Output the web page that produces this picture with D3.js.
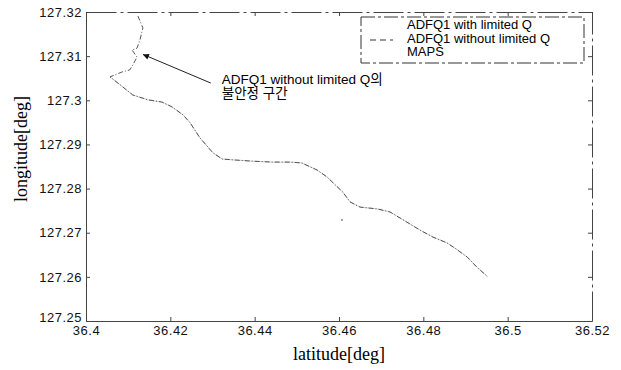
<!DOCTYPE html>
<html>
<head>
<meta charset="utf-8">
<script src="https://cdn.jsdelivr.net/npm/d3@7"></script>
<style>
  body { margin: 0; background: #fff; }
  svg { display: block; }
</style>
</head>
<body>
<script>
// data
const xTicks = [36.4, 36.42, 36.44, 36.46, 36.48, 36.5, 36.52]
const yTicks = [127.25, 127.26, 127.27, 127.28, 127.29, 127.3, 127.31, 127.32]

// unstable part of "without limited Q"
const latUnstable = [36.4123, 36.4135, 36.4128, 36.4121, 36.4109, 36.4121, 36.4111, 36.4104, 36.4085]
const lonUnstable = [127.3191, 127.3164, 127.3137, 127.3118, 127.3114, 127.3098, 127.3080, 127.3069, 127.3064]

// common trajectory
const latMain = [36.4057, 36.4081, 36.4111, 36.4147, 36.4180, 36.4204, 36.4230, 36.4247, 36.4270, 36.4301,
  36.4323, 36.4349, 36.4396, 36.4443, 36.4484, 36.4512, 36.4548, 36.4572, 36.4586, 36.4609,
  36.4626, 36.4650, 36.4690, 36.4721, 36.4761, 36.4792, 36.4823, 36.4856, 36.4875, 36.4904,
  36.4927, 36.4953]
const lonMain = [127.3053, 127.3035, 127.3012, 127.3001, 127.2996, 127.2985, 127.2967, 127.2949, 127.2915, 127.2881,
  127.2867, 127.2865, 127.2862, 127.2860, 127.2860, 127.2858, 127.2842, 127.2826, 127.2813, 127.2792,
  127.2770, 127.2758, 127.2754, 127.2747, 127.2724, 127.2706, 127.2690, 127.2677, 127.2665, 127.2645,
  127.2622, 127.2600]

// stray MAPS fix
const latMapsStray = [36.4607]
const lonMapsStray = [127.2729]

const legendLabels = ["ADFQ1 with limited Q", "ADFQ1 without limited Q", "MAPS"]

// annotation (data coords)
const noteTip = [36.4135, 127.3104]
const noteTail = [36.4296, 127.3039]
const noteAt = [36.4322, 127.3036]
const noteLines = ["ADFQ1 without limited Q의", "불안정 구간"]

const w = 621
const h = 370
const m = {left: 86, top: 12, right: 29, bottom: 49}

const svg = d3.select("body")
  .append("svg")
  .attr("width", w)
  .attr("height", h)
  .style("font-family", "'Liberation Sans', Arial, sans-serif")

const xScale = d3.scaleLinear().domain([36.4, 36.52]).range([m.left, w - m.right])
const yScale = d3.scaleLinear().domain([127.25, 127.32]).range([h - m.bottom, m.top])

const fmt = d => String(+d.toFixed(2))

// axes (ticks inward, matlab style)
const xAxis = d3.axisBottom(xScale).tickValues(xTicks).tickFormat(fmt)
  .tickSizeInner(-4).tickSizeOuter(0).tickPadding(5)
const yAxis = d3.axisLeft(yScale).tickValues(yTicks).tickFormat(fmt)
  .tickSizeInner(-4).tickSizeOuter(0).tickPadding(4)

svg.append("g")
  .attr("transform", "translate(0," + (h - m.bottom) + ")")
  .call(xAxis)
const gy = svg.append("g")
  .attr("transform", "translate(" + m.left + ",0)")
  .call(yAxis)

// lowest y label sits just above the 36.4 label, nudge it up a little
gy.selectAll(".tick text").filter(d => d === yTicks[0]).attr("y", -4)

svg.append("g")
  .attr("transform", "translate(0," + m.top + ")")
  .call(d3.axisTop(xScale).tickValues(xTicks).tickFormat("").tickSizeInner(-4).tickSizeOuter(0))
  .select(".domain").attr("stroke-dasharray", "30,4,3,4")
svg.append("g")
  .attr("transform", "translate(" + (w - m.right) + ",0)")
  .call(d3.axisRight(yScale).tickValues(yTicks).tickFormat("").tickSizeInner(-4).tickSizeOuter(0))
  .select(".domain").attr("stroke-dasharray", "30,4,3,4")

svg.selectAll(".domain").attr("stroke", "#444")
svg.selectAll(".tick line").attr("stroke", "#444")
svg.selectAll(".tick text").attr("fill", "#111")
  .style("font-size", "13px")
  .style("letter-spacing", "0.5px")
  .style("font-family", "'Liberation Sans', Arial, sans-serif")

// axis titles
svg.append("text")
  .attr("x", (m.left + w - m.right) / 2)
  .attr("y", 360)
  .attr("text-anchor", "middle")
  .style("font-family", "'Liberation Serif', 'Times New Roman', serif")
  .style("font-size", "18px")
  .text("latitude[deg]")
svg.append("text")
  .attr("transform", "translate(27," + 149 + ") rotate(-90)")
  .attr("text-anchor", "middle")
  .style("font-family", "'Liberation Serif', 'Times New Roman', serif")
  .style("font-size", "18px")
  .text("longitude[deg]")

// series
const line = d3.line().x(d => xScale(d[0])).y(d => yScale(d[1]))
const mainPts = latMain.map((v, i) => [v, lonMain[i]])
const unstablePts = latUnstable.map((v, i) => [v, lonUnstable[i]])

svg.append("path")
  .datum(mainPts)
  .attr("fill", "none")
  .attr("stroke", "#bbb")
  .attr("stroke-width", 0.7)
  .attr("d", line)

svg.append("path")
  .datum(unstablePts.concat(mainPts))
  .attr("fill", "none")
  .attr("stroke", "#444")
  .attr("stroke-width", 0.9)
  .attr("stroke-dasharray", "5,2,1,2")
  .attr("d", line)

svg.selectAll(".stray")
  .data(latMapsStray.map((v, i) => [v, lonMapsStray[i]]))
  .enter()
  .append("rect")
  .attr("x", d => xScale(d[0]) - 0.5)
  .attr("y", d => yScale(d[1]) - 1)
  .attr("width", 1)
  .attr("height", 2)
  .attr("fill", "#444")

// legend
const lg = svg.append("g")
lg.append("rect")
  .attr("x", 361).attr("y", 17).attr("width", 223).attr("height", 46)
  .attr("fill", "#fff")
  .attr("stroke", "#333")
  .attr("stroke-dasharray", "14,3,3,3")
lg.selectAll("text")
  .data(legendLabels)
  .enter()
  .append("text")
  .attr("x", 407)
  .attr("y", (d, i) => 29 + i * 13.5)
  .style("font-size", "13px")
  .text(d => d)
lg.append("line")
  .attr("x1", 370).attr("x2", 393).attr("y1", 40).attr("y2", 40)
  .attr("stroke", "#333")
  .attr("stroke-dasharray", "6,4")

// annotation
svg.append("defs").append("marker")
  .attr("id", "arr")
  .attr("viewBox", "0 0 10 10")
  .attr("refX", 10).attr("refY", 5)
  .attr("markerWidth", 8).attr("markerHeight", 6)
  .attr("markerUnits", "userSpaceOnUse")
  .attr("orient", "auto")
  .append("path")
  .attr("d", "M0,0L10,5L0,10z")
  .attr("fill", "#111")

svg.append("line")
  .attr("x1", xScale(noteTail[0])).attr("y1", yScale(noteTail[1]))
  .attr("x2", xScale(noteTip[0])).attr("y2", yScale(noteTip[1]))
  .attr("stroke", "#222")
  .attr("stroke-width", 1)
  .attr("marker-end", "url(#arr)")

svg.selectAll(".note")
  .data(noteLines)
  .enter()
  .append("text")
  .attr("x", xScale(noteAt[0]))
  .attr("y", (d, i) => yScale(noteAt[1]) + i * 14)
  .style("font-family", "'Liberation Sans', Arial, 'Noto Sans CJK KR', sans-serif")
  .style("font-size", "13.5px")
  .text(d => d)
</script>
</body>
</html>
